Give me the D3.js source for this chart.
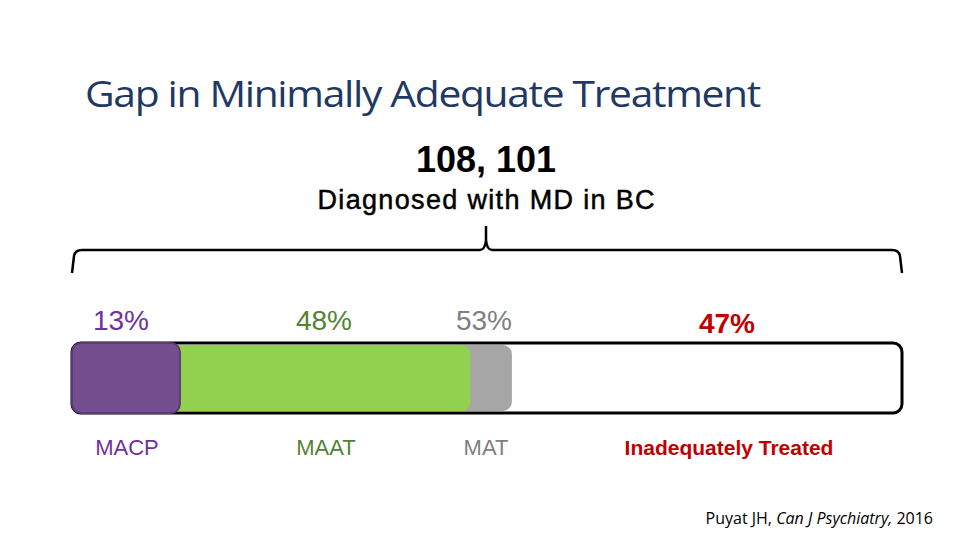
<!DOCTYPE html><html><head><meta charset="utf-8">
<script src="https://cdn.jsdelivr.net/npm/d3@7"></script>
<style>body{margin:0;background:#fff}</style></head><body><svg id="c" width="960" height="540"></svg>
<script>
const categories=["MACP","MAAT","MAT","Inadequately Treated"];
const values=[13,48,53,47];
const colors=["#744E8E","#92D050","#A6A6A6","#fff"];
const labelColors=["#7030A0","#548235","#7F7F7F","#C00000"];
const svg=d3.select("#c");
const x=d3.scaleLinear().domain([0,100]).range([72,902]);
const y0=343,h=70;
svg.append("text").attr("x",85).attr("y",107).attr("font-family","Open Sans").attr("font-size",37).attr("font-weight",500).attr("letter-spacing",-1.2).attr("fill","#1F3864").attr("textLength",675).attr("lengthAdjust","spacingAndGlyphs").text("Gap in Minimally Adequate Treatment");
svg.append("text").attr("x",486).attr("y",172).attr("text-anchor","middle").attr("font-family","Liberation Sans").attr("font-weight","bold").attr("font-size",36).text("108, 101");
svg.append("text").attr("x",486).attr("y",209).attr("text-anchor","middle").attr("font-family","Liberation Sans").attr("font-size",27).attr("stroke","#000").attr("stroke-width",0.5).attr("textLength",337).text("Diagnosed with MD in BC");
const bx=486;
svg.append("path").attr("fill","none").attr("stroke","#000").attr("stroke-width",2.5)
 .attr("d",`M${x(0)},273 L${x(0)+2},256 Q${x(0)+3},250 ${x(0)+10},250 L${bx-6},250 Q${bx-1},250 ${bx},240 L${bx},226 M${bx},240 Q${bx+1},250 ${bx+6},250 L${x(100)-10},250 Q${x(100)-3},250 ${x(100)-2},256 L${x(100)},273`);
svg.append("rect").attr("x",x(0)).attr("y",y0).attr("width",x(100)-x(0)).attr("height",h).attr("rx",9).attr("fill","#fff").attr("stroke","#000").attr("stroke-width",3);
[2,1,0].forEach(i=>{
 svg.append("rect").attr("x",x(0)+(i==0?0:1)).attr("y",i==0?y0:y0+2).attr("width",x(values[i])-x(0)-(i==0?0:1)).attr("height",i==0?h:h-4).attr("rx",9)
  .attr("fill",colors[i]).attr("stroke",i==0?"#5B3A78":"none").attr("stroke-width",2);
});
const pctX=[121,324,484,727];
values.forEach((v,i)=>{
 svg.append("text").attr("x",pctX[i]).attr("y",i==3?333:330).attr("text-anchor","middle").attr("font-family","Liberation Sans").attr("font-size",28).attr("font-weight",i==3?"bold":"normal").attr("fill",labelColors[i]).text(v+"%");
});
const catX=[127,326,486,729];
categories.forEach((c,i)=>{
 svg.append("text").attr("x",catX[i]).attr("y",455).attr("text-anchor","middle").attr("font-family","Liberation Sans").attr("font-size",i==3?21:22).attr("font-weight",i==3?"bold":"normal").attr("fill",labelColors[i]).text(c);
});
const cit=svg.append("text").attr("x",933).attr("y",524).attr("text-anchor","end").attr("font-family","Open Sans").attr("font-size",16).attr("fill","#000");
cit.append("tspan").text("Puyat JH, ");cit.append("tspan").attr("font-style","italic").text("Can J Psychiatry, ");cit.append("tspan").text("2016");
</script></body></html>
